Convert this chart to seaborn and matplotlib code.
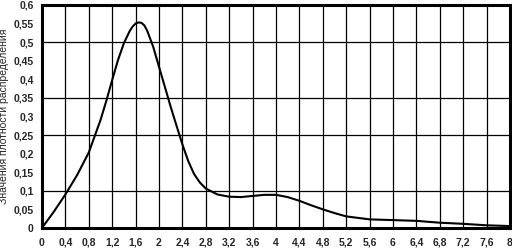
import numpy as np
import matplotlib
matplotlib.use("Agg")
import matplotlib.pyplot as plt
import seaborn as sns

# density curve
x_vals = [0.0, 0.2, 0.4, 0.6, 0.8, 1.0, 1.1, 1.2, 1.3, 1.4, 1.5, 1.55, 1.6,
          1.65, 1.7, 1.75, 1.8, 1.9, 2.0, 2.1, 2.2, 2.3, 2.4, 2.5, 2.6, 2.7,
          2.8, 3.0, 3.2, 3.4, 3.6, 3.8, 4.0, 4.2, 4.4, 4.6, 4.8, 5.0, 5.2,
          5.6, 6.0, 6.4, 6.8, 7.2, 7.6, 8.0]
density = [0.0, 0.043, 0.09, 0.142, 0.203, 0.29, 0.342, 0.398, 0.452, 0.497,
           0.530, 0.542, 0.550, 0.553, 0.552, 0.545, 0.530, 0.488, 0.434,
           0.38, 0.326, 0.275, 0.225, 0.18, 0.145, 0.122, 0.106, 0.09, 0.084,
           0.083, 0.086, 0.089, 0.089, 0.083, 0.073, 0.061, 0.05, 0.04,
           0.031, 0.023, 0.021, 0.019, 0.014, 0.011, 0.007, 0.005]

x_ticks = np.round(np.arange(0, 8.01, 0.4), 1)
y_ticks = np.round(np.arange(0, 0.601, 0.05), 2)
h_grid = [0.1, 0.25, 0.35, 0.5]
y_title = "Значения плотности распределения"


def fmt(v):
    return ("%g" % v).replace(".", ",")


sns.set_style("white")
plt.rcParams['font.family'] = ['Liberation Sans', 'DejaVu Sans']

fig = plt.figure(figsize=(5.12, 2.48), dpi=100)
ax = fig.add_axes([0.082, 0.081, 0.914, 0.899])
ax.grid(False)

# grid lines (only some horizontal levels show in the original)
for xv in x_ticks:
    ax.axvline(xv, color='black', linewidth=0.9, zorder=1)
for yv in h_grid:
    ax.axhline(yv, color='black', linewidth=0.9, zorder=1)

sns.lineplot(x=x_vals, y=density, color='black', linewidth=1.5, ax=ax, zorder=3)

ax.set_xlim(0, 8)
ax.set_ylim(0, 0.6)
ax.set_xticks(x_ticks)
ax.set_xticklabels([fmt(v) for v in x_ticks], fontsize=7.5, fontweight='bold')
ax.set_yticks(y_ticks)
ax.set_yticklabels([fmt(v) for v in y_ticks], fontsize=7.5, fontweight='bold')
ax.tick_params(axis='both', direction='out', length=3, width=1, color='black')
ax.tick_params(axis='x', pad=4)
ax.tick_params(axis='y', pad=3)

for side in ['left', 'right', 'top', 'bottom']:
    ax.spines[side].set_visible(True)
    ax.spines[side].set_color('black')
    ax.spines[side].set_linewidth(2.2)

ax.set_ylabel(y_title, fontsize=7.5, labelpad=3)
ax.set_xlabel("")

fig.savefig("out.png", dpi=100)
